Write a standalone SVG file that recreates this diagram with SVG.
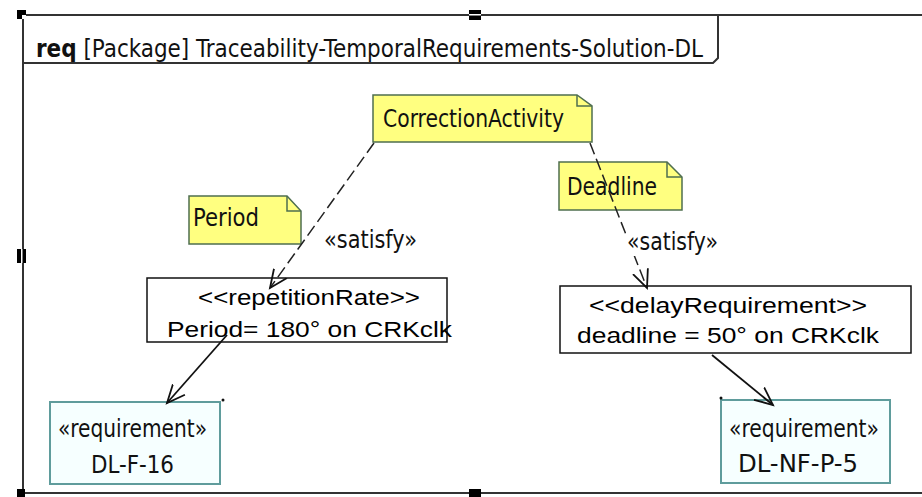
<svg xmlns="http://www.w3.org/2000/svg" width="922" height="497" viewBox="0 0 922 497">
  <style>
    .frame { fill: none; stroke: #333333; stroke-width: 2; }
    .handle { fill: #000000; }
    .note { fill: #ffff80; stroke: #4f6f4f; stroke-width: 1.5; }
    .fold { fill: none; stroke: #4f6f4f; stroke-width: 1.5; }
    .req { fill: #f6ffff; stroke: #5f9c9c; stroke-width: 2; }
    .box { fill: #ffffff; stroke: #111111; stroke-width: 1.5; }
    .lbl { font-family: "DejaVu Sans Condensed", "Liberation Sans", sans-serif; font-size: 24px; fill: #111111; }
    .arial { font-family: "Liberation Sans", Arial, sans-serif; font-size: 22px; fill: #000000; }
    .dash { fill: none; stroke: #222222; stroke-width: 1.5; stroke-dasharray: 12 5; }
    .solid { fill: none; stroke: #111111; stroke-width: 1.8; }
  </style>
  <defs>
    <marker id="open" markerUnits="userSpaceOnUse" markerWidth="24" markerHeight="24" refX="18" refY="9" orient="auto" viewBox="0 0 24 18">
      <path d="M0,1 L18,9 L0,17" fill="none" stroke="#111111" stroke-width="1.8"/>
    </marker>
  </defs>

  <rect width="922" height="497" fill="#ffffff"/>

  <!-- package frame with its name tab -->
  <g id="frame">
    <path class="frame" d="M23,15 H922 M23,15 V493 H922"/>
    <path class="frame" d="M23,63 H713 L718,58 V15"/>
    <text x="36" y="57" class="lbl" font-size="23" textLength="667" lengthAdjust="spacingAndGlyphs"><tspan font-weight="bold">req</tspan> [Package] Traceability-TemporalRequirements-Solution-DL</text>
    <rect class="handle" x="17" y="10" width="9" height="9"/>
    <rect x="22" y="15" width="4" height="4" fill="#ffffff"/>
    <rect class="handle" x="469" y="10" width="12" height="10"/>
    <rect x="469" y="14" width="12" height="1.5" fill="#ffffff"/>
    <rect class="handle" x="17" y="249" width="9" height="14"/>
    <rect x="21" y="249" width="1.5" height="14" fill="#ffffff"/>
    <rect class="handle" x="17" y="489" width="8" height="8"/>
    <rect class="handle" x="469" y="489" width="12" height="8"/>
  </g>

  <!-- notes -->
  <g id="note-correction">
    <path class="note" d="M373,95 H577 L592,106 V142 H373 Z"/>
    <path class="fold" d="M577,95 V106 H592"/>
    <text x="383" y="127" class="lbl" textLength="181" lengthAdjust="spacingAndGlyphs">CorrectionActivity</text>
  </g>
  <g id="note-period">
    <path class="note" d="M189,196 H287 L301,211 V244 H189 Z"/>
    <path class="fold" d="M287,196 V211 H301"/>
    <text x="193" y="226" class="lbl" textLength="66" lengthAdjust="spacingAndGlyphs">Period</text>
  </g>
  <g id="note-deadline">
    <path class="note" d="M559,162 H667 L682,177 V210 H559 Z"/>
    <path class="fold" d="M667,162 V177 H682"/>
    <text x="567" y="195" class="lbl" textLength="90" lengthAdjust="spacingAndGlyphs">Deadline</text>
  </g>

  <!-- constraint boxes -->
  <g id="repetition-rate">
    <rect class="box" x="147" y="278" width="300" height="64"/>
    <text x="198" y="305" class="arial" textLength="222" lengthAdjust="spacingAndGlyphs">&lt;&lt;repetitionRate&gt;&gt;</text>
    <text x="167" y="337" class="arial" textLength="285" lengthAdjust="spacingAndGlyphs">Period= 180° on CRKclk</text>
  </g>
  <g id="delay-requirement">
    <rect class="box" x="560" y="286" width="351" height="67"/>
    <text x="589" y="313" class="arial" textLength="278" lengthAdjust="spacingAndGlyphs">&lt;&lt;delayRequirement&gt;&gt;</text>
    <text x="577" y="343" class="arial" textLength="302" lengthAdjust="spacingAndGlyphs">deadline = 50° on CRKclk</text>
  </g>

  <!-- requirements -->
  <g id="req-dl-f-16">
    <rect class="req" x="50" y="402" width="170" height="82"/>
    <circle cx="223" cy="400" r="1.5" fill="#111111"/>
    <text x="58" y="437" class="lbl" textLength="149" lengthAdjust="spacingAndGlyphs">«requirement»</text>
    <text x="91" y="473" class="lbl" textLength="83" lengthAdjust="spacingAndGlyphs">DL-F-16</text>
  </g>
  <g id="req-dl-nf-p-5">
    <rect class="req" x="721" y="400" width="169" height="83"/>
    <circle cx="721" cy="398" r="1.5" fill="#111111"/>
    <text x="729" y="437" class="lbl" textLength="150" lengthAdjust="spacingAndGlyphs">«requirement»</text>
    <text x="738" y="472" class="lbl" textLength="120" lengthAdjust="spacingAndGlyphs">DL-NF-P-5</text>
  </g>

  <!-- connectors, drawn over the nodes -->
  <g id="connectors">
    <line class="dash" x1="374" y1="143" x2="270" y2="288" marker-end="url(#open)"/>
    <line class="dash" x1="590" y1="143" x2="647" y2="288" marker-end="url(#open)"/>
    <line class="solid" x1="227" y1="335" x2="167" y2="403" marker-end="url(#open)"/>
    <line class="solid" x1="712" y1="355" x2="773" y2="405" marker-end="url(#open)"/>
    <rect x="322" y="229" width="98" height="25" fill="#ffffff"/>
    <rect x="626" y="231" width="94" height="25" fill="#ffffff"/>
    <text x="324" y="248" class="lbl" textLength="93" lengthAdjust="spacingAndGlyphs">«satisfy»</text>
    <text x="627" y="250" class="lbl" textLength="91" lengthAdjust="spacingAndGlyphs">«satisfy»</text>
  </g>
</svg>
